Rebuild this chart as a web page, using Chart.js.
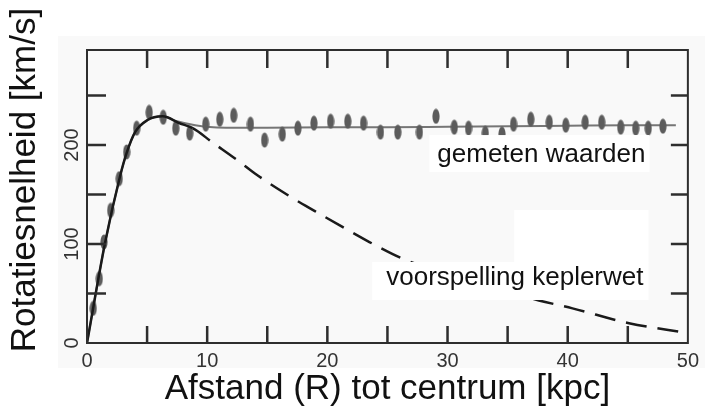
<!DOCTYPE html>
<html>
<head>
<meta charset="utf-8">
<script src="https://cdn.jsdelivr.net/npm/chart.js@4.4.1/dist/chart.umd.min.js"></script>
<style>
  html, body { margin: 0; padding: 0; background: #fff; }
</style>
</head>
<body>
<canvas id="grafiek" width="705" height="407"></canvas>
<script>
// gemeten waarden (afstand in kpc, snelheid in km/s)
const measuredR = [0.52, 1.02, 1.41, 1.97, 2.68, 3.30, 4.13, 5.17, 6.34, 7.39, 8.55, 9.88, 11.05, 12.21, 13.60, 14.78, 16.25, 17.55, 18.88, 20.27,
                   21.70, 23.01, 24.42, 25.86, 27.66, 29.04, 30.56, 31.75, 33.14, 34.53, 35.49, 36.93, 38.46, 39.84, 41.45, 42.83, 44.41, 45.66, 46.70, 47.92];
const measuredV = [35, 65, 102, 134, 166, 193, 217, 233, 228, 217, 212, 221, 226, 230, 221, 205, 211, 217, 222, 224,
                   224, 222, 213, 213, 213, 229, 218, 217, 212, 211, 221, 226, 223, 220, 223, 223, 218, 217, 217, 219];

// lijn door de gemeten waarden
const fitR = [0, 1.5, 2.74, 3.3, 4, 5, 6.3, 7.5, 9, 10.5, 12, 15, 20, 25, 30, 35, 40, 45, 49];
const fitV = [0, 101, 168, 192, 213, 225, 229, 224, 220, 218, 217.5, 217.5, 218, 218, 218.5, 219, 219.5, 220, 220];

// voorspelling keplerwet
const keplerR = [0, 1.5, 2.74, 3.3, 4, 5, 6.3, 7.7, 8.8, 10.4, 12.7, 14, 16.9, 19, 21, 23.5, 26.3, 30, 34, 37.6, 40.4, 45.1, 50];
const keplerV = [0, 101, 168, 192, 213, 225, 229, 222, 217, 203, 183, 171, 148, 133, 119, 102, 85, 70, 55, 43, 35, 20, 10];

const xLabelTicks = [0, 10, 20, 30, 40, 50];
const yLabelTicks = [0, 100, 200];

const font = '"Liberation Sans", Arial, sans-serif';

function pts(xs, ys) {
  return xs.map((x, i) => ({ x: x, y: ys[i] }));
}

// ovale stip voor de metingen
const dot = document.createElement('canvas');
dot.width = 8;
dot.height = 16;
const dc = dot.getContext('2d');
dc.fillStyle = '#5c5c5c';
dc.beginPath();
dc.ellipse(4, 8, 3.6, 7.6, 0, 0, Math.PI * 2);
dc.fill();

// achtergrond, kader, streepjes, y-labels en teksten
const kader = {
  id: 'kader',
  beforeDraw(chart) {
    const ctx = chart.ctx;
    ctx.save();
    ctx.fillStyle = '#fff';
    ctx.fillRect(0, 0, chart.width, chart.height);
    ctx.fillStyle = '#f9f9f9';
    ctx.fillRect(58, 36, chart.width - 58, 332);
    ctx.restore();
  },
  afterDatasetsDraw(chart) {
    const ctx = chart.ctx;
    const x = chart.scales.x, y = chart.scales.y;
    ctx.save();
    ctx.font = '26px ' + font;
    ctx.textBaseline = 'alphabetic';

    // gemeten waarden
    let tx = x.getPixelForValue(29.15), ty = y.getPixelForValue(182.8);
    let w = ctx.measureText('gemeten waarden').width;
    ctx.fillStyle = '#fff';
    ctx.fillRect(tx - 8, ty - 27, w + 12, 37);
    ctx.fillStyle = '#111';
    ctx.fillText('gemeten waarden', tx, ty);

    // voorspelling keplerwet
    tx = x.getPixelForValue(24.9);
    ty = y.getPixelForValue(58.6);
    w = ctx.measureText('voorspelling keplerwet').width;
    ctx.fillStyle = '#fff';
    ctx.fillRect(tx - 14, ty - 23, w + 19, 38);
    ctx.fillRect(tx + 128, ty - 75, w - 123, 53);
    ctx.fillStyle = '#111';
    ctx.fillText('voorspelling keplerwet', tx, ty);
    ctx.restore();
  },
  afterDraw(chart) {
    const ctx = chart.ctx;
    const a = chart.chartArea;
    const x = chart.scales.x, y = chart.scales.y;
    ctx.save();
    ctx.strokeStyle = '#2e2e2e';
    ctx.lineWidth = 2;
    ctx.strokeRect(a.left, a.top, a.right - a.left, a.bottom - a.top);

    ctx.lineWidth = 2.5;
    ctx.beginPath();
    x.ticks.forEach(t => {
      if (t.value <= x.min || t.value >= x.max || t.value % 5 !== 0) return;
      const px = x.getPixelForValue(t.value);
      ctx.moveTo(px, a.bottom); ctx.lineTo(px, a.bottom - 17);
      ctx.moveTo(px, a.top); ctx.lineTo(px, a.top + 18);
    });
    y.ticks.forEach(t => {
      if (t.value <= y.min || t.value >= y.max || t.value % 50 !== 0) return;
      const py = y.getPixelForValue(t.value);
      ctx.moveTo(a.left, py); ctx.lineTo(a.left + 19, py);
      ctx.moveTo(a.right, py); ctx.lineTo(a.right - 17, py);
    });
    ctx.stroke();

    // gedraaide labels op de y-as
    ctx.fillStyle = '#333';
    ctx.font = '20px ' + font;
    ctx.textAlign = 'center';
    ctx.textBaseline = 'middle';
    yLabelTicks.forEach(v => {
      ctx.save();
      ctx.translate(72, y.getPixelForValue(v));
      ctx.rotate(-Math.PI / 2);
      ctx.fillText(String(v), 0, 0);
      ctx.restore();
    });

    // titel y-as
    ctx.save();
    ctx.fillStyle = '#111';
    ctx.font = '35px ' + font;
    ctx.translate(25, 180);
    ctx.rotate(-Math.PI / 2);
    ctx.fillText('Rotatiesnelheid [km/s]', 0, 0);
    ctx.restore();
    ctx.restore();
  }
};

new Chart(document.getElementById('grafiek'), {
  type: 'scatter',
  data: {
    datasets: [
      {
        label: 'voorspelling keplerwet',
        data: pts(keplerR, keplerV),
        showLine: true,
        borderColor: '#1a1a1a',
        borderWidth: 2.5,
        pointRadius: 0,
        cubicInterpolationMode: 'monotone',
        segment: {
          borderDash: c => c.p0.parsed.x >= 8.8 ? [21, 11] : undefined
        },
        order: 0
      },
      {
        label: 'gemeten waarden',
        data: pts(measuredR, measuredV),
        pointStyle: dot,
        pointRadius: 7,
        showLine: false,
        order: 1
      },
      {
        label: 'fit',
        data: pts(fitR, fitV),
        showLine: true,
        borderColor: '#767676',
        borderWidth: 2,
        pointRadius: 0,
        cubicInterpolationMode: 'monotone',
        order: 2
      }
    ]
  },
  options: {
    responsive: false,
    animation: false,
    layout: { padding: { left: 0, top: 50, right: 16, bottom: 0 } },
    plugins: {
      legend: { display: false },
      tooltip: { enabled: false }
    },
    scales: {
      x: {
        type: 'linear',
        min: 0,
        max: 50,
        grid: { display: false, drawTicks: false },
        border: { display: false },
        ticks: {
          stepSize: 5,
          autoSkip: false,
          maxRotation: 0,
          padding: 6,
          color: '#333',
          font: { family: font, size: 20 },
          callback: v => xLabelTicks.includes(v) ? String(v) : ''
        },
        title: {
          display: true,
          text: 'Afstand (R) tot centrum [kpc]',
          color: '#111',
          font: { family: font, size: 35, lineHeight: 1 },
          padding: 0
        },
        afterFit: s => { s.height = 64; }
      },
      y: {
        type: 'linear',
        min: 0,
        max: 296,
        grid: { display: false, drawTicks: false },
        border: { display: false },
        ticks: { display: false, stepSize: 50 },
        afterFit: s => { s.height; s.width = 87; }
      }
    }
  },
  plugins: [kader]
});
</script>
</body>
</html>
